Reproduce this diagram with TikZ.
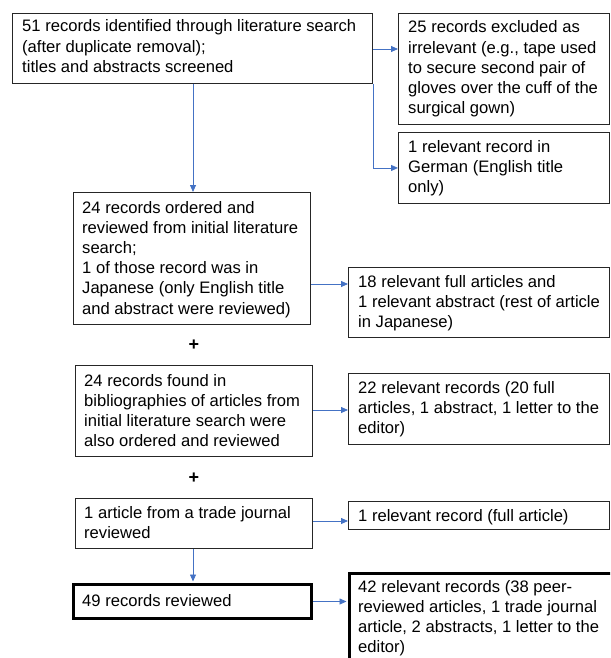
\documentclass[tikz,border=0pt]{standalone}
\usepackage{fontspec}
\setmainfont{Liberation Sans}
\usetikzlibrary{calc,arrows.meta}
\definecolor{arrblue}{HTML}{4472C4}
\newcommand\bxt[1]{\parbox[t]{400pt}{#1}}
\begin{document}
\begin{tikzpicture}[x=1pt,y=-1pt,
  box/.style={draw=black!85,line width=0.9pt,inner sep=0pt,anchor=north west,rectangle},
  thickbox/.style={box,line width=3pt,draw=black},
  txt/.style={inner sep=0pt,anchor=base west,font=\fontsize{16.6}{20.2}\selectfont},
  plus/.style={inner sep=0pt,font=\fontsize{18}{20}\selectfont\bfseries},
  arr/.style={draw=arrblue,line width=0.8pt,-{Triangle[length=7pt,width=6pt]}},
  ln/.style={draw=arrblue,line width=0.8pt}]
\useasboundingbox (0,0) rectangle (610,658);
\begin{scope}
\clip (0,0) rectangle (610,658);
% boxes
\node[box,minimum width=360pt,minimum height=70pt] (A) at (12,13) {};
\node[box,minimum width=211pt,minimum height=111pt] (B) at (398,13) {};
\node[box,minimum width=211pt,minimum height=71pt] (C) at (398,132) {};
\node[box,minimum width=237pt,minimum height=132pt] (D) at (73,192) {};
\node[box,minimum width=261pt,minimum height=70pt] (E) at (348,267) {};
\node[box,minimum width=237pt,minimum height=91pt] (F) at (75,365) {};
\node[box,minimum width=261pt,minimum height=71pt] (G) at (348,373) {};
\node[box,minimum width=237pt,minimum height=50pt] (H) at (75,498) {};
\node[box,minimum width=261pt,minimum height=28pt] (I) at (348,501) {};
\node[thickbox,minimum width=238pt,minimum height=34pt] (J) at (72,583) {};
\node[thickbox,minimum width=270pt,minimum height=100pt] (K) at (348,572) {};
% texts
\node[txt] (tA) at ($(A.north west)+(10,19)$) {\bxt{51 records identified through literature search\\(after duplicate removal);\\titles and abstracts screened}};
\node[txt] (tB) at ($(B.north west)+(10,20)$) {\bxt{25 records excluded as\\irrelevant (e.g., tape used\\to secure second pair of\\gloves over the cuff of the\\surgical gown)}};
\node[txt] (tC) at ($(C.north west)+(10,20)$) {\bxt{1 relevant record in\\German (English title\\only)}};
\node[txt] (tD) at ($(D.north west)+(9,21)$) {\bxt{24 records ordered and\\reviewed from initial literature\\search;\\1 of those record was in\\Japanese (only English title\\and abstract were reviewed)}};
\node[txt] (tE) at ($(E.north west)+(10,20)$) {\bxt{18 relevant full articles and\\1 relevant abstract (rest of article\\in Japanese)}};
\node[txt] (tF) at ($(F.north west)+(9,21)$) {\bxt{24 records found in\\bibliographies of articles from\\initial literature search were\\also ordered and reviewed}};
\node[txt] (tG) at ($(G.north west)+(10,20)$) {\bxt{22 relevant records (20 full\\articles, 1 abstract, 1 letter to the\\editor)}};
\node[txt] (tH) at ($(H.north west)+(9,20)$) {\bxt{1 article from a trade journal\\reviewed}};
\node[txt] (tI) at ($(I.north west)+(10,20)$) {\bxt{1 relevant record (full article)}};
\node[txt] (tJ) at ($(J.north west)+(10,23)$) {\bxt{49 records reviewed}};
\node[txt] (tK) at ($(K.north west)+(10,20)$) {\bxt{42 relevant records (38 peer-\\reviewed articles, 1 trade journal\\article, 2 abstracts, 1 letter to the\\editor)}};
\node[plus] (p1) at (194,345) {+};
\node[plus] (p2) at (194,478) {+};
% connectors
\coordinate (a1) at ($(A.north east)+(0,36)$);
\draw[arr] (a1) -- (a1 -| B.west);
\draw[arr] (A.south east) -- (A.south east |- C.west) -- (C.west);
\coordinate (a2) at ($(A.south west)+(181,0)$);
\draw[arr] (a2) -- (a2 |- D.north);
\coordinate (d1) at ($(D.north east)+(0,92)$);
\draw[arr] (d1) -- (d1 -| E.west);
\coordinate (f1) at ($(F.north east)+(0,45)$);
\draw[arr] (f1) -- (f1 -| G.west);
\coordinate (h1) at ($(H.north east)+(0,23)$);
\draw[arr] (h1) -- (h1 -| I.west);
\coordinate (h2) at ($(H.south west)+(118,0)$);
\draw[arr] (h2) -- ($(h2 |- J.north)+(0,-1.5)$);
\draw[arr] (J.east) -- ($(J.east -| K.west)+(-1.5,0)$);
\end{scope}
\end{tikzpicture}
\end{document}
